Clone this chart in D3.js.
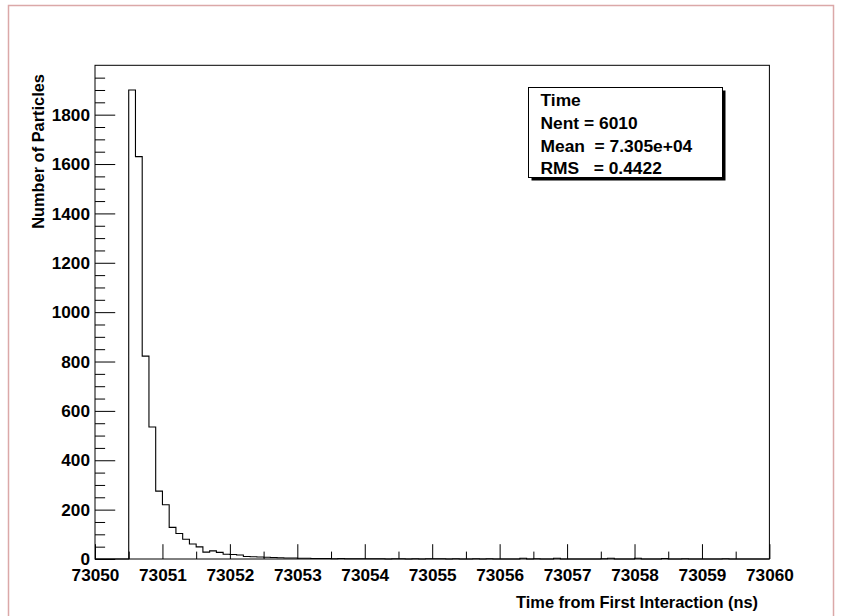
<!DOCTYPE html>
<html>
<head>
<meta charset="utf-8">
<script src="https://cdn.jsdelivr.net/npm/d3@7/dist/d3.min.js"></script>
<style>
  html, body { margin: 0; padding: 0; background: #fff; }
  svg { display: block; }
  text { font-family: "Liberation Sans", Arial, Helvetica, sans-serif; font-weight: bold; fill: #000; }
</style>
</head>
<body>
<svg id="chart" width="841" height="616"></svg>
<script>
// Histogram of arrival times, 0.1 ns bins from 73050 ns to 73060 ns
const binStart = 73050;
const binWidth = 0.1;
const counts = [
  0, 0, 0, 0, 0, 1900, 1630, 822, 535, 275,
  220, 128, 103, 80, 61, 49, 28, 33, 27, 19,
  18, 16, 10, 9, 8, 7, 6, 5, 4, 4,
  3, 3, 2, 2, 2, 1, 2, 1, 1, 1,
  1, 1, 1, 0, 1, 1, 0, 1, 0, 1,
  1, 1, 0, 1, 0, 0, 1, 0, 1, 0,
  0, 0, 0, 3, 0, 1, 0, 0, 3, 0,
  0, 0, 0, 0, 0, 1, 3, 0, 0, 0,
  3, 0, 0, 0, 2, 0, 0, 1, 0, 0,
  0, 0, 0, 1, 0, 0, 0, 0, 0, 0
];

// Axis ranges and tick values
const xDomain = [73050, 73060];
const yDomain = [0, 2000];
const xMajorTicks = [73050, 73051, 73052, 73053, 73054, 73055, 73056, 73057, 73058, 73059, 73060];
const xMinorTicks = [73050.5, 73051.5, 73052.5, 73053.5, 73054.5, 73055.5, 73056.5, 73057.5, 73058.5, 73059.5];
const yMajorTicks = [0, 200, 400, 600, 800, 1000, 1200, 1400, 1600, 1800];
const yMinorTicks = [50, 100, 150, 250, 300, 350, 450, 500, 550, 650, 700, 750, 850, 900, 950,
  1050, 1100, 1150, 1250, 1300, 1350, 1450, 1500, 1550, 1650, 1700, 1750, 1850, 1900, 1950];

// Statistics panel
const statsTitle = "Time";
const statsLines = ["Nent = 6010", "Mean  = 7.305e+04", "RMS   = 0.4422"];
const xTitle = "Time from First Interaction (ns)";
const yTitle = "Number of Particles";

const svg = d3.select("#chart");

// Canvas border
svg.append("rect")
  .attr("x", 8.5).attr("y", 5.5)
  .attr("width", 825).attr("height", 640)
  .attr("fill", "none").attr("stroke", "#dba8a8").attr("stroke-width", 1.5);

const frame = { left: 95, right: 769.4, top: 65.3, bottom: 559 };
const x = d3.scaleLinear().domain(xDomain).range([frame.left, frame.right]);
const y = d3.scaleLinear().domain(yDomain).range([frame.bottom, frame.top]);
const frameW = frame.right - frame.left;
const frameH = frame.bottom - frame.top;

// Histogram outline
const pts = [];
counts.forEach((c, i) => {
  const x0 = binStart + i * binWidth;
  const x1 = x0 + binWidth;
  pts.push([x0, c], [x1, c]);
});
const line = d3.line().x(d => x(d[0])).y(d => y(d[1]));
svg.append("path")
  .attr("d", line(pts))
  .attr("fill", "none")
  .attr("stroke", "#000")
  .attr("stroke-width", 1.1);

// X axis: major ticks with labels, minor ticks pointing inward
const xMajorLen = 0.03 * frameH;
const gx = svg.append("g").attr("transform", `translate(0,${frame.bottom})`)
  .call(d3.axisBottom(x).tickValues(xMajorTicks).tickSizeInner(-xMajorLen).tickSizeOuter(0)
    .tickPadding(10).tickFormat(d3.format("d")));
gx.select(".domain").remove();
gx.selectAll("text").attr("font-size", 17.2);
gx.attr("font-family", null).attr("font-size", null);

const gxm = svg.append("g").attr("transform", `translate(0,${frame.bottom})`)
  .call(d3.axisBottom(x).tickValues(xMinorTicks).tickSizeInner(-xMajorLen / 2).tickSizeOuter(0).tickFormat(""));
gxm.select(".domain").remove();

// Y axis
const yMajorLen = 0.03 * frameW;
const gy = svg.append("g").attr("transform", `translate(${frame.left},0)`)
  .call(d3.axisLeft(y).tickValues(yMajorTicks).tickSizeInner(-yMajorLen).tickSizeOuter(0)
    .tickPadding(5).tickFormat(d3.format("d")));
gy.select(".domain").remove();
gy.selectAll("text").attr("font-size", 17.2).attr("dy", "0.33em");
gy.attr("font-family", null).attr("font-size", null);

const gym = svg.append("g").attr("transform", `translate(${frame.left},0)`)
  .call(d3.axisLeft(y).tickValues(yMinorTicks).tickSizeInner(-yMajorLen / 2).tickSizeOuter(0).tickFormat(""));
gym.select(".domain").remove();

svg.selectAll(".tick line").attr("stroke", "#000").attr("stroke-width", 1);

// Frame
svg.append("rect")
  .attr("x", frame.left).attr("y", frame.top)
  .attr("width", frameW).attr("height", frameH)
  .attr("fill", "none").attr("stroke", "#000").attr("stroke-width", 1);

// Axis titles
svg.append("text")
  .attr("x", 758).attr("y", 608)
  .attr("text-anchor", "end").attr("font-size", 16.4)
  .text(xTitle);
svg.append("text")
  .attr("transform", "translate(44,74) rotate(-90)")
  .attr("text-anchor", "end").attr("font-size", 16.4)
  .text(yTitle);

// Statistics box with shadow
const box = { x: 528.5, y: 87.5, w: 194, h: 90 };
svg.append("rect")
  .attr("x", box.x + 3).attr("y", box.y + 3)
  .attr("width", box.w).attr("height", box.h)
  .attr("fill", "#000");
svg.append("rect")
  .attr("x", box.x).attr("y", box.y)
  .attr("width", box.w).attr("height", box.h)
  .attr("fill", "#fff").attr("stroke", "#000").attr("stroke-width", 1);
const statText = [statsTitle].concat(statsLines);
const baselines = [106, 129, 152, 173.5];
svg.selectAll("text.stat").data(statText).enter().append("text")
  .attr("class", "stat")
  .attr("x", 540.5)
  .attr("y", (d, i) => baselines[i])
  .attr("font-size", 17.4)
  .attr("xml:space", "preserve")
  .style("white-space", "pre")
  .text(d => d);
</script>
</body>
</html>
